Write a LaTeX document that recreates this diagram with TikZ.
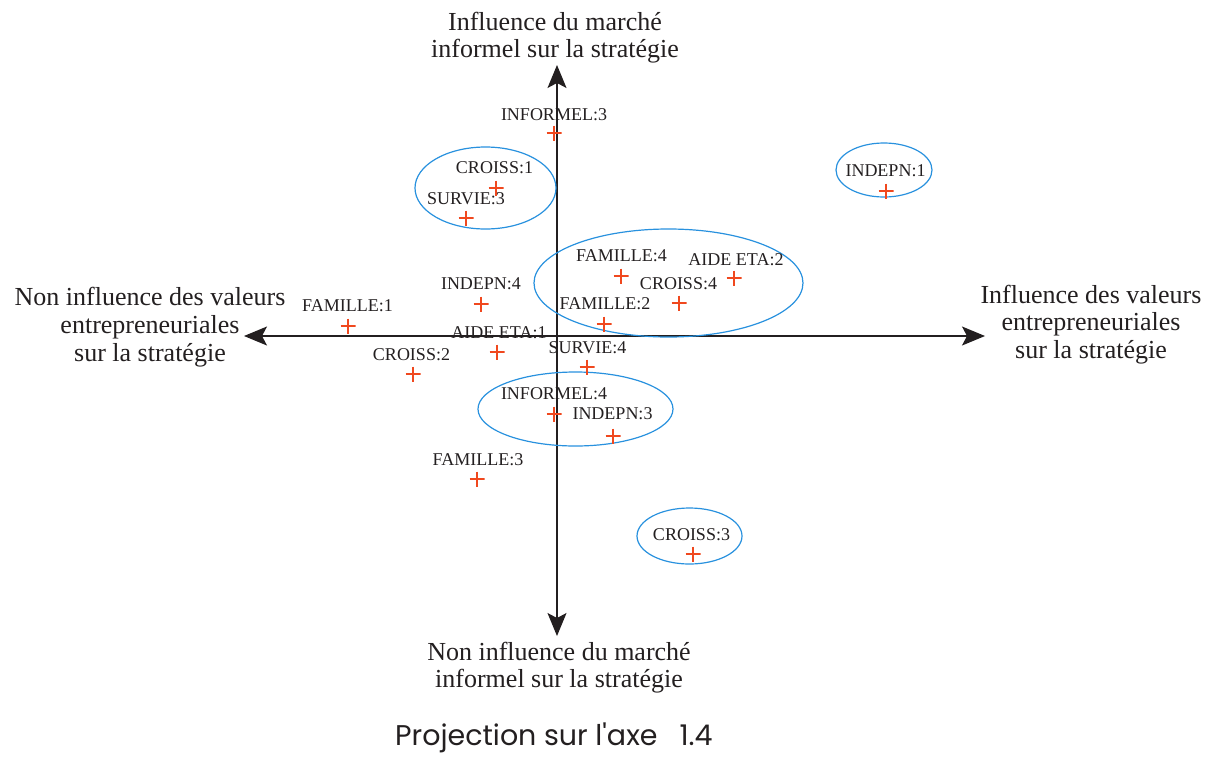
\documentclass[tikz,border=0pt]{standalone}
\usepackage{fontspec}
\setmainfont{Liberation Serif}
\newfontfamily\captionfont{Poppins}
\usetikzlibrary{arrows.meta,shapes.geometric}

\definecolor{ink}{RGB}{35,31,32}
\definecolor{markred}{RGB}{240,72,30}
\definecolor{ringblue}{RGB}{40,145,222}

\tikzset{
  axis/.style={draw=ink, line width=1.3pt,
    {Stealth[length=23pt,width=19pt,inset=5pt]}-{Stealth[length=23pt,width=19pt,inset=5pt]}},
  axislabel/.style={text=ink, align=center, inner sep=0pt, anchor=base,
    font=\fontsize{26}{27}\selectfont},
  ptlabel/.style={text=ink, anchor=base, inner sep=0pt,
    font=\fontsize{18}{20}\selectfont},
  plus/.style={inner sep=0pt, minimum size=15pt,
    path picture={\draw[markred, line width=2.1pt]
      (path picture bounding box.north) -- (path picture bounding box.south)
      (path picture bounding box.west) -- (path picture bounding box.east);}},
  ring/.style={draw=ringblue, line width=1.2pt, ellipse, inner sep=0pt}
}

\begin{document}
\begin{tikzpicture}[x=1pt,y=-1pt]
  \useasboundingbox (0,0) rectangle (1215,758);

  % axes
  \coordinate (west) at (244,336);
  \coordinate (east) at (985,336);
  \coordinate (north) at (557,65);
  \coordinate (south) at (557,636);
  \draw[axis] (west) -- (east);
  \draw[axis] (south) -- (north);

  % axis captions (anchored on the baseline of their last line)
  \node[axislabel] (ltop) at (555,57.5) {Influence du march\'e\\informel sur la strat\'egie};
  \node[axislabel] (lbot) at (559,687) {Non influence du march\'e\\informel sur la strat\'egie};
  \node[axislabel, font=\fontsize{26}{28}\selectfont] (lleft) at (150,361) {Non influence des valeurs\\entrepreneuriales\\sur la strat\'egie};
  \node[axislabel, font=\fontsize{26}{27.5}\selectfont] (lright) at (1091,358) {Influence des valeurs\\entrepreneuriales\\sur la strat\'egie};

  % groups
  \node[ring, minimum width=141pt, minimum height=82pt] (g1) at (485.5,188) {};
  \node[ring, minimum width=96pt, minimum height=54pt] (g2) at (884,170) {};
  \node[ring, minimum width=269pt, minimum height=108pt] (g3) at (668.5,283) {};
  \node[ring, minimum width=195pt, minimum height=74pt] (g4) at (575.5,409) {};
  \node[ring, minimum width=105pt, minimum height=56pt] (g5) at (689.5,536) {};

  % modalities
  \node[plus] (informel3) at (554,133) {};
  \node[ptlabel] at (554,120.5) {INFORMEL:3};
  \node[plus] (croiss1) at (496,188) {};
  \node[ptlabel] at (494.5,173) {CROISS:1};
  \node[plus] (survie3) at (466,218) {};
  \node[ptlabel] at (466,204) {SURVIE:3};
  \node[plus] (indepn1) at (886,191) {};
  \node[ptlabel] at (885.5,176) {INDEPN:1};
  \node[plus] (famille4) at (621,276) {};
  \node[ptlabel] at (621.5,261) {FAMILLE:4};
  \node[plus] (aideeta2) at (734,278) {};
  \node[ptlabel] at (736,265) {AIDE ETA:2};
  \node[plus] (croiss4) at (679,303) {};
  \node[ptlabel] at (678.5,289) {CROISS:4};
  \node[plus] (famille2) at (604,324) {};
  \node[ptlabel] at (605,309) {FAMILLE:2};
  \node[plus] (survie4) at (587,367) {};
  \node[ptlabel] at (587.5,353) {SURVIE:4};
  \node[plus] (famille1) at (348,326) {};
  \node[ptlabel] at (347.5,311) {FAMILLE:1};
  \node[plus] (indepn4) at (481,304) {};
  \node[ptlabel] at (481,289) {INDEPN:4};
  \node[plus] (aideeta1) at (497,352) {};
  \node[ptlabel] at (499,338) {AIDE ETA:1};
  \node[plus] (croiss2) at (413,374) {};
  \node[ptlabel] at (411.5,360) {CROISS:2};
  \node[plus] (informel4) at (554,414) {};
  \node[ptlabel] at (554,399) {INFORMEL:4};
  \node[plus] (indepn3) at (613,436) {};
  \node[ptlabel] at (612.5,419) {INDEPN:3};
  \node[plus] (famille3) at (477,479) {};
  \node[ptlabel] at (478,465) {FAMILLE:3};
  \node[plus] (croiss3) at (693,554) {};
  \node[ptlabel] at (691.5,540) {CROISS:3};

  % caption
  \node[text=ink, anchor=base west, inner sep=0pt,
    font=\captionfont\fontsize{28.5}{30}\selectfont] (title) at (395,745)
    {Projection sur l'axe\hspace{22pt}1.4};
\end{tikzpicture}
\end{document}
